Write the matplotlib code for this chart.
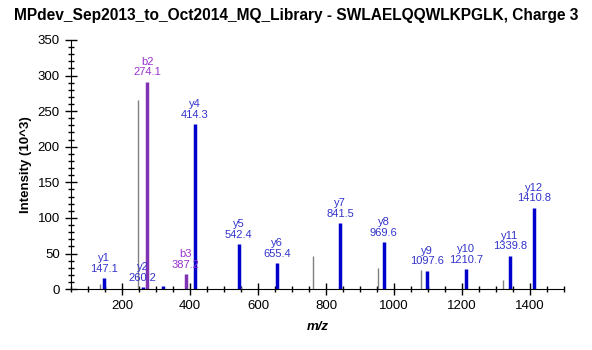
import matplotlib
matplotlib.use("Agg")
import matplotlib.pyplot as plt
from matplotlib.ticker import MultipleLocator

plt.rcParams['font.family'] = ['Liberation Sans', 'DejaVu Sans']

title = "MPdev_Sep2013_to_Oct2014_MQ_Library - SWLAELQQWLKPGLK, Charge 3"

# Annotated y ions
y_labels = ["y1", "y2", "y4", "y5", "y6", "y7", "y8", "y9", "y10", "y11", "y12"]
y_mz = [147.1, 260.2, 414.3, 542.4, 655.4, 841.5, 969.6, 1097.6, 1210.7, 1339.8, 1410.8]
y_int = [16, 3, 231.5, 63.5, 37, 92.5, 66, 26, 28.5, 47, 114.5]

# Annotated b ions
b_labels = ["b2", "b3"]
b_mz = [274.1, 387.2]
b_int = [291.5, 21.5]

# Unannotated blue peak
extra_mz = [320.0]
extra_int = [4.5]

# Unmatched peaks
gray_mz = [134.4, 248.0, 550.0, 653.0, 762.7, 953.8, 1080.0, 1321.5]
gray_int = [7, 265, 3, 2, 47, 30, 27, 12.5]

BLUE = "#0000CC"
BLUE_TXT = "#3333CC"
PURPLE = "#8033B3"
PURPLE_TXT = "#9933CC"
GRAY = "#808080"

fig = plt.figure(figsize=(5.92, 3.5), dpi=100)
ax = fig.add_axes([0.120, 0.174, 0.833, 0.712])

ax.vlines(gray_mz, 0, gray_int, color=GRAY, linewidth=1.0)
ax.vlines(extra_mz, 0, extra_int, color=BLUE, linewidth=2.5)
ax.vlines(y_mz, 0, y_int, color=BLUE, linewidth=2.5)
ax.vlines(b_mz, 0, b_int, color=PURPLE, linewidth=2.5)

for lab, mz, inten in zip(y_labels, y_mz, y_int):
    ax.annotate(f"{lab}\n{mz:.1f}", (mz, inten), xytext=(0, 3),
                textcoords="offset points", ha="center", va="bottom",
                fontsize=8, color=BLUE_TXT, linespacing=1.1)
for lab, mz, inten in zip(b_labels, b_mz, b_int):
    ax.annotate(f"{lab}\n{mz:.1f}", (mz, inten), xytext=(0, 3),
                textcoords="offset points", ha="center", va="bottom",
                fontsize=8, color=PURPLE_TXT, linespacing=1.1)

ax.set_xlim(50, 1500)
ax.set_ylim(0, 350)
ax.spines['top'].set_visible(False)
ax.spines['right'].set_visible(False)
ax.xaxis.set_major_locator(MultipleLocator(200))
ax.xaxis.set_minor_locator(MultipleLocator(50))
ax.yaxis.set_major_locator(MultipleLocator(50))
ax.yaxis.set_minor_locator(MultipleLocator(10))
ax.tick_params(axis='both', which='major', direction='inout', length=9, width=1,
               labelsize=9.5, colors='black')
ax.tick_params(axis='both', which='minor', direction='inout', length=5, width=1)

fig.text(0.5, 0.955, title, fontsize=11.2, fontweight='bold',
         ha='center', va='center')
ax.set_xlabel("m/z", fontsize=9.5, fontweight='bold', style='italic', labelpad=6)
ax.set_ylabel("Intensity (10^3)", fontsize=9.5, fontweight='bold', labelpad=4)

fig.savefig("out.png", dpi=100)
